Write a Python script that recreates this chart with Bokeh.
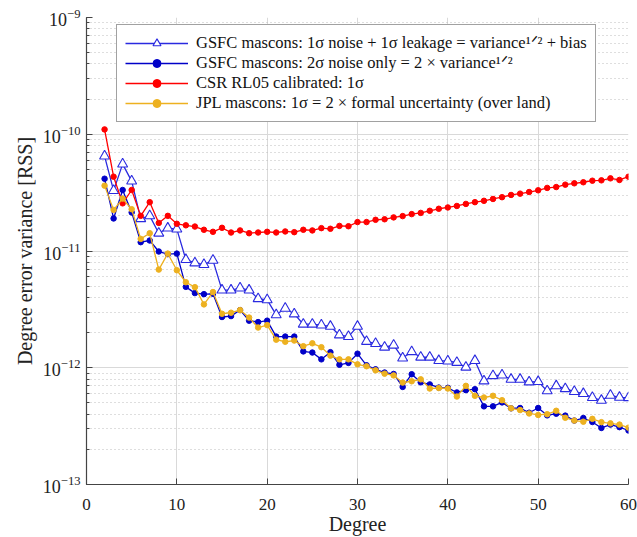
from bokeh.plotting import figure
from bokeh.models import Range1d, FixedTicker, Legend, LegendItem
from bokeh.embed import file_html
from bokeh.resources import INLINE

degrees = list(range(2, 61))

gsfc_leak = [6.5e-11, 3.29e-11, 5.55e-11, 3.97e-11, 1.89e-11, 2.0e-11, 1.42e-11, 1.57e-11, 1.54e-11,
             8.43e-12, 7.9e-12, 7.65e-12, 8.32e-12, 4.62e-12, 4.62e-12, 4.81e-12, 4.62e-12, 3.9e-12,
             3.82e-12, 2.84e-12, 3.23e-12, 2.89e-12, 2.36e-12, 2.36e-12, 2.32e-12, 2.26e-12, 1.91e-12,
             1.85e-12, 2.26e-12, 1.68e-12, 1.61e-12, 1.50e-12, 1.56e-12, 1.21e-12, 1.37e-12, 1.23e-12,
             1.23e-12, 1.15e-12, 1.14e-12, 1.11e-12, 1.01e-12, 1.15e-12, 7.7e-13, 8.55e-13, 8.65e-13,
             7.95e-13, 7.95e-13, 7.55e-13, 7.6e-13, 6.33e-13, 6.99e-13, 6.61e-13, 6.25e-13, 6.0e-13,
             5.55e-13, 5.25e-13, 5.8e-13, 5.57e-13, 5.53e-13]

gsfc_noise = [4.16e-11, 1.90e-11, 3.33e-11, 2.14e-11, 1.19e-11, 1.23e-11, 9.9e-12, 9.4e-12, 9.5e-12,
              4.93e-12, 4.36e-12, 4.27e-12, 4.30e-12, 2.72e-12, 2.77e-12, 3.12e-12, 2.53e-12, 2.46e-12,
              2.53e-12, 1.85e-12, 1.85e-12, 1.85e-12, 1.38e-12, 1.35e-12, 1.18e-12, 1.36e-12, 1.06e-12,
              1.10e-12, 1.32e-12, 1.05e-12, 9.7e-13, 9.1e-13, 8.85e-13, 6.85e-13, 8.8e-13, 7.5e-13,
              7.2e-13, 6.76e-13, 6.73e-13, 6.14e-13, 6.43e-13, 6.55e-13, 4.67e-13, 4.67e-13, 5.05e-13,
              4.49e-13, 4.52e-13, 4.12e-13, 4.52e-13, 3.91e-13, 4.04e-13, 3.89e-13, 3.53e-13, 3.71e-13,
              3.43e-13, 3.05e-13, 3.26e-13, 3.10e-13, 2.9e-13]

csr = [1.10e-10, 4.33e-11, 2.56e-11, 3.33e-11, 2.0e-11, 2.62e-11, 1.74e-11, 2.0e-11, 1.71e-11,
       1.66e-11, 1.62e-11, 1.52e-11, 1.46e-11, 1.58e-11, 1.44e-11, 1.50e-11, 1.42e-11, 1.44e-11,
       1.46e-11, 1.44e-11, 1.47e-11, 1.45e-11, 1.52e-11, 1.50e-11, 1.57e-11, 1.55e-11, 1.64e-11,
       1.63e-11, 1.77e-11, 1.77e-11, 1.85e-11, 1.87e-11, 1.94e-11, 1.99e-11, 2.07e-11, 2.12e-11,
       2.21e-11, 2.30e-11, 2.36e-11, 2.43e-11, 2.53e-11, 2.62e-11, 2.69e-11, 2.79e-11, 2.89e-11,
       3.02e-11, 3.10e-11, 3.20e-11, 3.31e-11, 3.47e-11, 3.53e-11, 3.70e-11, 3.80e-11, 3.88e-11,
       4.00e-11, 4.03e-11, 4.19e-11, 4.06e-11, 4.33e-11]

jpl = [3.63e-11, 2.25e-11, 2.81e-11, 2.28e-11, 1.27e-11, 1.42e-11, 6.93e-12, 9.5e-12, 6.84e-12,
       5.4e-12, 4.9e-12, 3.49e-12, 4.45e-12, 2.9e-12, 2.96e-12, 3.12e-12, 2.69e-12, 2.21e-12,
       2.32e-12, 1.74e-12, 1.67e-12, 1.71e-12, 1.53e-12, 1.62e-12, 1.50e-12, 1.27e-12, 1.18e-12,
       1.18e-12, 1.07e-12, 1.03e-12, 9.5e-13, 8.9e-13, 8.6e-13, 7.46e-13, 7.66e-13, 7.96e-13,
       6.64e-13, 6.7e-13, 6.64e-13, 5.67e-13, 7.0e-13, 5.75e-13, 5.56e-13, 5.75e-13, 5.27e-13,
       4.49e-13, 4.34e-13, 4.06e-13, 3.94e-13, 4.0e-13, 4.28e-13, 3.73e-13, 3.53e-13, 3.45e-13,
       3.65e-13, 3.42e-13, 3.34e-13, 3.26e-13, 3.07e-13]

labels = [
    "GSFC mascons: 1σ noise + 1σ leakage = variance¹ᐟ² + bias",
    "GSFC mascons: 2σ noise only = 2 × variance¹ᐟ²",
    "CSR RL05 calibrated: 1σ",
    "JPL mascons: 1σ = 2 × formal uncertainty (over land)",
]
x_ticks = [0, 10, 20, 30, 40, 50, 60]
x_title = "Degree"
y_title = "Degree error variance [RSS]"

FONT = "Liberation Serif"

p = figure(width=637, height=537, y_axis_type="log",
           x_range=Range1d(0, 60), y_range=Range1d(1e-13, 1e-9),
           output_backend="svg", toolbar_location=None,
           min_border_left=86, min_border_right=9, min_border_top=17, min_border_bottom=51)
p.outline_line_color = None
p.background_fill_color = "white"
p.border_fill_color = "white"

# grids
p.xgrid.ticker = FixedTicker(ticks=x_ticks, minor_ticks=[])
p.xgrid.grid_line_color = "#d9d9d9"
p.ygrid.grid_line_color = "#d9d9d9"
p.ygrid.minor_grid_line_color = "#bdbdbd"
p.ygrid.minor_grid_line_dash = "1 3"

# axes
xa = p.xaxis[0]
ya = p.yaxis[0]
xa.ticker = FixedTicker(ticks=x_ticks, minor_ticks=[])
for ax in (xa, ya):
    ax.axis_line_color = "#444444"
    ax.axis_line_width = 1.2
    ax.major_tick_line_color = "#444444"
    ax.minor_tick_line_color = "#444444"
    ax.major_tick_out = 0
    ax.minor_tick_out = 0
    ax.major_tick_in = 6
    ax.minor_tick_in = 3
    ax.major_label_text_color = "#222222"
    ax.major_label_text_font = FONT
    ax.axis_label_text_font = FONT
    ax.axis_label_text_font_size = "20px"
    ax.axis_label_text_font_style = "normal"
    ax.axis_label_text_color = "#222222"
xa.major_label_text_font_size = "17px"
ya.major_label_text_font_size = "18px"
xa.major_label_standoff = 14
ya.major_label_standoff = 6
xa.axis_label = x_title
ya.axis_label = y_title
xa.axis_label_standoff = 0
ya.axis_label_standoff = 4

c_leak = "#2a2ae0"
c_noise = "#0000c8"
c_csr = "#ff0000"
c_jpl = "#edb120"

l1 = p.line(degrees, gsfc_leak, line_color=c_leak, line_width=1.3)
s1 = p.scatter(degrees, gsfc_leak, marker="triangle", size=10, fill_color="white",
               line_color=c_leak, line_width=1.1)
l2 = p.line(degrees, gsfc_noise, line_color=c_noise, line_width=1.3)
s2 = p.scatter(degrees, gsfc_noise, marker="circle", size=5.5, fill_color=c_noise, line_color=c_noise)
l3 = p.line(degrees, csr, line_color=c_csr, line_width=1.3)
s3 = p.scatter(degrees, csr, marker="circle", size=5.5, fill_color=c_csr, line_color=c_csr)
l4 = p.line(degrees, jpl, line_color=c_jpl, line_width=1.3)
s4 = p.scatter(degrees, jpl, marker="circle", size=5.5, fill_color=c_jpl, line_color=c_jpl)

legend = Legend(items=[
    LegendItem(label=labels[0], renderers=[l1, s1]),
    LegendItem(label=labels[1], renderers=[l2, s2]),
    LegendItem(label=labels[2], renderers=[l3, s3]),
    LegendItem(label=labels[3], renderers=[l4, s4]),
], location=(30, 362))
legend.glyph_width = 63
legend.glyph_height = 20
legend.label_height = 20
legend.spacing = 0
legend.padding = 8
legend.margin = 0
legend.label_standoff = 8
legend.border_line_color = "#444444"
legend.border_line_width = 1.5
legend.background_fill_alpha = 1.0
legend.label_text_font = FONT
legend.label_text_font_size = "16.5px"
legend.label_text_color = "#111111"
p.add_layout(legend)

open("out.html", "w").write(file_html(p, INLINE))
